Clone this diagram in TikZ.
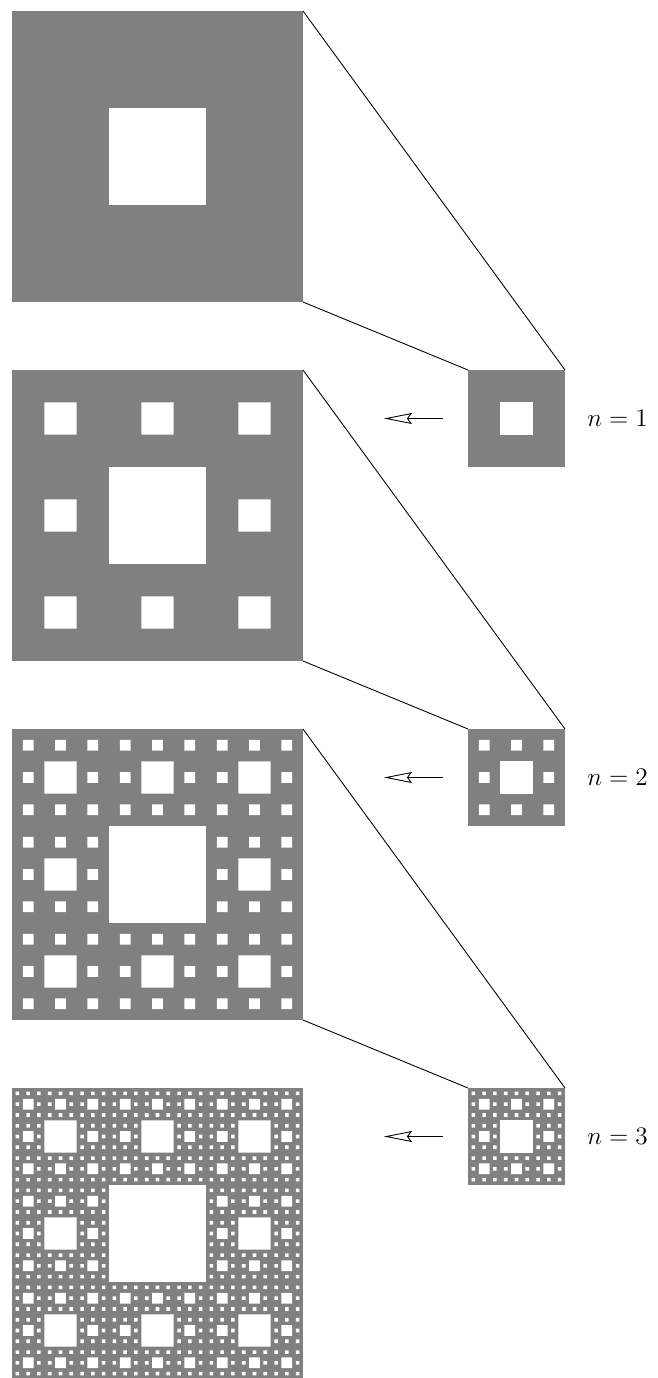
\documentclass[tikz,border=0pt]{standalone}
\usepackage{tikz}
\usetikzlibrary{arrows.meta,positioning}
\tikzset{
  carpet/.style={fill=gray,minimum size=#1,inner sep=0pt,outer sep=0pt,anchor=north west},
  carpet/.default=5.82cm,
  hole/.style={fill=white},
  zoomline/.style={line width=0.5pt},
  back/.style={line width=0.5pt,-{Stealth[open,length=5.6mm,width=2.2mm,inset=0.8mm]},
    shorten <=0.5cm,shorten >=1.62cm},
  steptag/.style={inner sep=0pt,font=\Large},
}
% white holes of a carpet node: node, levels, side
\newcommand\carpetholes[3]{%
  \begin{scope}[shift={(#1.north west)},x=#3,y=-#3]
    \foreach \k in {1,...,#2}{
      \pgfmathtruncatemacro\m{3^(\k-1)}
      \pgfmathtruncatemacro\last{\m-1}
      \fill[hole] \foreach \i in {0,...,\last}{\foreach \j in {0,...,\last}{
        ({(3*\i+1)/(3*\m)},{(3*\j+1)/(3*\m)}) rectangle ++({1/(3*\m)},{1/(3*\m)})}};
    }
  \end{scope}}
\begin{document}
\begin{tikzpicture}
  \useasboundingbox (0,0) rectangle (13.16,-27.56);
  % big carpets
  \foreach \r in {1,...,4}
    \node[carpet] (big\r) at (0.24,{-0.22-7.18*(\r-1)}) {};
  % small carpets
  \foreach \r in {2,3,4}
    \node[carpet=1.94cm] (small\r) at (9.36,{-0.22-7.18*(\r-1)}) {};
  \foreach \r in {1,...,4}{\carpetholes{big\r}{\r}{5.82cm}}
  \foreach \r in {2,3,4}{
    \pgfmathtruncatemacro\n{\r-1}
    \carpetholes{small\r}{\n}{1.94cm}
    \draw[zoomline] (big\n.north east) -- (small\r.north east);
    \draw[zoomline] (big\n.south east) -- (small\r.north west);
    \draw[back] (small\r.west) -- (small\r.west -| big\r.east);
    \node[steptag,right=0.44cm of small\r] (lab\r) {$n=\n$};
  }
\end{tikzpicture}
\end{document}
